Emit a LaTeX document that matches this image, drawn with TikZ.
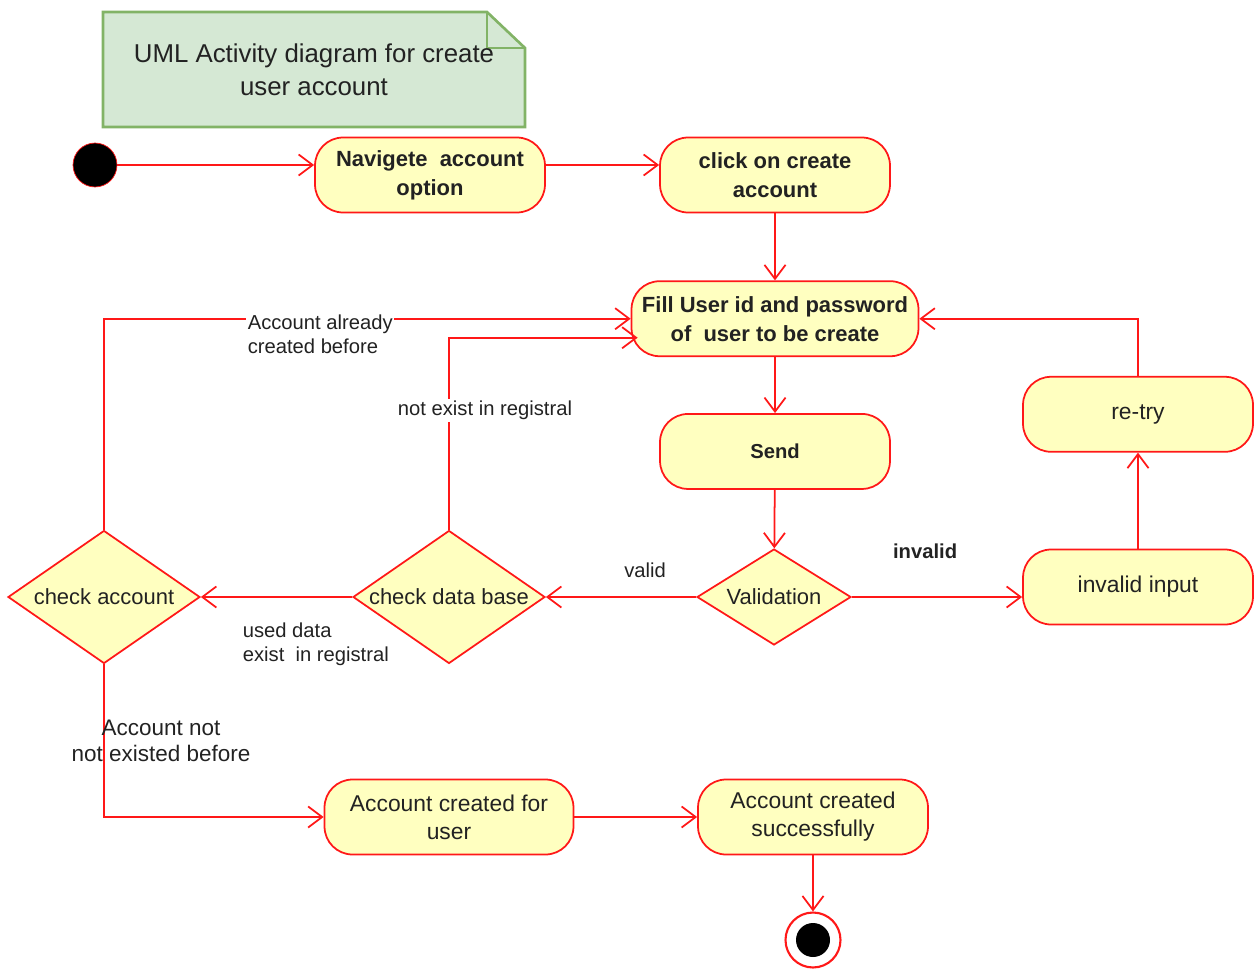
\documentclass[tikz,border=0pt]{standalone}
\usepackage{fontspec}
\setmainfont{Liberation Sans}
\usepackage{tikz}
\usetikzlibrary{arrows.meta, positioning, shapes.geometric}
\definecolor{linered}{RGB}{255,24,24}
\definecolor{actyellow}{RGB}{255,255,192}
\definecolor{notegreen}{RGB}{213,232,212}
\definecolor{noteline}{RGB}{130,179,102}
\definecolor{textgray}{RGB}{34,34,34}
\tikzset{
  action/.style={
    minimum width=4.6cm,
    minimum height=1.5cm,
    align=center,
    draw=linered,
    fill=actyellow,
    line width=1pt,
    rounded corners=0.56cm,
    text=textgray,
    font=\fontsize{13}{16}\selectfont
  },
  boldaction/.style={
    action,
    font=\bfseries\fontsize{12.5}{16.5}\selectfont
  },
  decision/.style={
    diamond,
    aspect=1.44,
    minimum width=3.84cm,
    minimum height=2.66cm,
    inner sep=0pt,
    align=center,
    draw=linered,
    fill=actyellow,
    line width=1pt,
    text=textgray,
    font=\fontsize{12.5}{15}\selectfont
  },
  startstate/.style={circle, fill=black, draw=linered, minimum size=0.88cm},
  endstate/.style={
    circle,
    draw=linered,
    fill=white,
    line width=1.2pt,
    minimum size=1.1cm,
    path picture={\fill[black] (path picture bounding box.center) circle (0.34cm);}
  },
  notebox/.style={draw=noteline, fill=notegreen, line width=1.5pt},
  notetext/.style={
    align=center,
    text=textgray,
    font=\fontsize{14.7}{18.7}\selectfont
  },
  guard/.style={align=left, text=textgray, inner sep=1pt, font=\fontsize{11.5}{14}\selectfont},
  arrow/.style={draw=linered, line width=1pt, -{Straight Barb[length=8pt, width=12pt]}}
}
\begin{document}
\begin{tikzpicture}[x=0.02cm, y=-0.02cm]
    \useasboundingbox (0,0) rectangle (1255,970);
    % note with folded corner
    \filldraw [notebox] (103,12) -- (487,12) -- (525,48) -- (525,127) -- (103,127) -- cycle;
    \draw [notebox, fill=none] (487,12) |- (525,48);
    \node (note) [notetext] at (314,70) {UML Activity diagram for create \\ user account};

    \node (start) [startstate] at (95,165) {};
    \node (nav) [boldaction] at (430,175) {Navigete\ \ account \\ option};
    \node (click) [boldaction] at (775,175) {click on create \\ account};
    \node (fill) [boldaction, minimum width=5.74cm, below=1.34cm of click] {Fill User id and password \\ of\ \ user to be create};
    \node (send) [boldaction, font=\bfseries\fontsize{11.5}{14}\selectfont, below=1.12cm of fill] {Send};
    \node (valid) [decision, minimum width=3.08cm, minimum height=1.92cm] at (774,597) {Validation};
    \node (dbase) [decision] at (449,597) {check data base};
    \node (checkacc) [decision] at (104,597) {check account};
    \node (invalid) [action] at (1138,587) {invalid input};
    \node (retry) [action, above=1.92cm of invalid] {re-try};
    \node (accuser) [action, minimum width=4.98cm] at (449,817) {Account created for \\ user};
    \node (accsucc) [action] at (813,817) {Account created \\ successfully};
    \node (end) [endstate] at (813,940) {};

    \draw [arrow] (start) -- (start -| nav.west);
    \draw [arrow] (nav.east |- start) -- (click.west |- start);
    \draw [arrow] (click) -- (fill);
    \draw [arrow] (fill) -- (send);
    \draw [arrow] (send) -- (valid);
    \draw [arrow] (valid) -- node [guard, font=\bfseries\fontsize{11.5}{14}\selectfont, above=0.72cm, pos=0.43] {invalid} (valid -| invalid.west);
    \draw [arrow] (invalid) -- (retry);
    \draw [arrow] (retry) |- (fill);
    \draw [arrow] (valid) -- node [guard, above=0.34cm, pos=0.34] {valid} (dbase);
    \draw [arrow] (dbase) -- node [guard, below=0.46cm, pos=0.24] {used data \\ exist\ \ in registral} (checkacc);
    \draw [arrow] (dbase.north) |- node [guard, fill=white, pos=0.31, xshift=0.72cm] {not exist in registral} ([xshift=0.14cm, yshift=-0.38cm]fill.west);
    \draw [arrow] (checkacc.north) |- node [guard, fill=white, anchor=north west, pos=0.634, yshift=0.14cm] {Account already \\ created before} (fill.west);
    \draw [arrow] (checkacc.south) |- node [guard, align=center, font=\fontsize{12.8}{15}\selectfont, pos=0.25, xshift=1.14cm] {Account not \\ not existed before} (accuser.west);
    \draw [arrow] (accuser) -- (accsucc);
    \draw [arrow] (accsucc) -- (end);
\end{tikzpicture}
\end{document}
